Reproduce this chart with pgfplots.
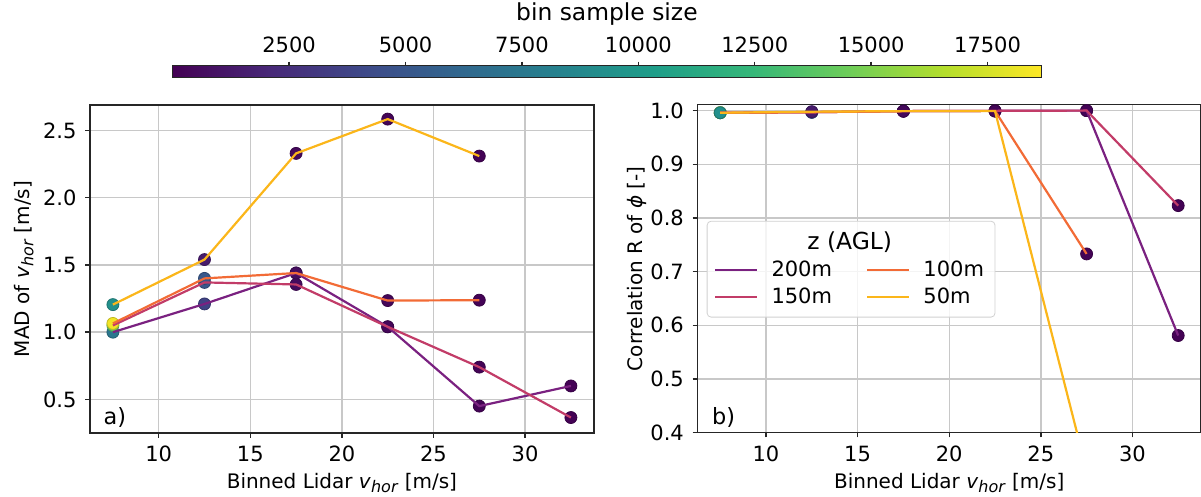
\documentclass[border=0pt]{standalone}
\usepackage{pgfplots}
\usepackage{pgfplotstable}
\pgfplotsset{compat=1.18}
\usepackage{fontspec}
\setmainfont{DejaVu Sans}

\definecolor{c200}{HTML}{7A2180}
\definecolor{c150}{HTML}{C23C68}
\definecolor{c100}{HTML}{F26B36}
\definecolor{c50}{HTML}{FBB61A}
\definecolor{gridc}{HTML}{C8C8C8}

\newcommand\tickfont{\fontsize{10.5}{12}\selectfont}
\newcommand\labfont{\fontsize{11.5}{13.5}\selectfont}
\newcommand\vhor{\textit{v}\raisebox{-2pt}{\fontsize{8}{9}\selectfont\textit{hor}}}

% x = bin centre, mad = MAD of v_hor, r = correlation of phi, n = bin sample size
\pgfplotstableread{
x mad r n
7.5 1.00 0.996 7400
12.5 1.21 0.997 3700
17.5 1.44 0.999 450
22.5 1.04 0.9995 250
27.5 0.45 1.000 120
32.5 0.60 0.581 40
}\zTwoHundred
\pgfplotstableread{
x mad r n
7.5 1.05 0.996 14000
12.5 1.37 0.997 5000
17.5 1.355 0.999 550
22.5 1.04 0.9995 280
27.5 0.74 1.000 130
32.5 0.365 0.823 40
}\zOneFifty
\pgfplotstableread{
x mad r n
7.5 1.065 0.996 18300
12.5 1.40 0.997 5100
17.5 1.44 0.999 650
22.5 1.235 0.9995 300
27.5 1.238 0.733 110
}\zOneHundred
\pgfplotstableread{
x mad r n
7.5 1.205 0.996 9300
12.5 1.54 0.998 1400
17.5 2.33 0.999 420
22.5 2.585 0.999 220
27.5 2.31 0.33 60
}\zFifty

\pgfplotsset{
  colormap={vir}{rgb255=(68,1,84) rgb255=(72,40,120) rgb255=(62,74,137)
    rgb255=(49,104,142) rgb255=(38,130,142) rgb255=(31,158,137)
    rgb255=(53,183,121) rgb255=(109,205,89) rgb255=(180,222,44)
    rgb255=(253,231,37)},
  panel/.style={
    scale only axis, width=251.9pt, height=164pt,
    xmin=6.25, xmax=33.75, xtick={10,15,20,25,30},
    grid=major, major grid style={gridc, line width=0.7pt},
    axis line style={black!85, line width=0.7pt},
    tick pos=left, tick align=outside, major tick length=2.4pt,
    tick style={black!85, line width=0.7pt},
    tick label style={font=\tickfont},
    /pgf/number format/assume math mode=true,
    xticklabel style={yshift=-0.6pt},
    yticklabel style={xshift=-0.8pt, /pgf/number format/.cd, fixed, fixed zerofill, precision=1},
    label style={font=\labfont},
    every axis x label/.style={at={(axis description cs:0.5,-0.170)}, anchor=base},
    colormap name=vir, point meta min=0, point meta max=18650,
    clip marker paths=true,
  },
  dots/.style={scatter, only marks, mark=*, mark size=3pt, scatter src=explicit, forget plot},
  ln/.style={line width=1.1pt, forget plot},
}

\begin{document}
\begin{tikzpicture}
\useasboundingbox (0,0) rectangle (600.5pt,248.5pt);

% a) MAD
\begin{axis}[panel, at={(45pt,32pt)}, anchor=south west,
  ymin=0.25, ymax=2.69, ytick={0.5,1.0,1.5,2.0,2.5},
  xlabel={Binned Lidar \vhor{} [m/s]},
  ylabel={MAD of \vhor{} [m/s]},
  every axis y label/.style={at={(axis description cs:-0.131,0.5)}, rotate=90, anchor=center},
  colorbar horizontal,
  colorbar shift/.style={xshift=41.35pt, yshift=177.65pt},
  colorbar style={
    at={(parent axis.south west)}, anchor=south west,
    scale only axis, width=434.2pt, height=6pt,
    xtick={2500,5000,7500,10000,12500,15000,17500},
    scaled x ticks=false,
    xtick pos=right, xticklabel pos=right,
    tick align=outside, major tick length=2pt,
    tick style={black!85, line width=0.7pt},
    axis line style={black!85, line width=0.6pt},
    xticklabel style={font=\tickfont, yshift=1pt, /pgf/number format/1000 sep={}},
    /pgf/number format/assume math mode=true,
    title={bin sample size},
    title style={at={(axis description cs:0.5,1)}, anchor=base, yshift=16.7pt,
      font=\fontsize{11.7}{13.5}\selectfont, inner sep=0pt},
  },
]
\addplot[dots] table[x=x, y=mad, meta=n] {\zTwoHundred};
\addplot[dots] table[x=x, y=mad, meta=n] {\zOneFifty};
\addplot[dots] table[x=x, y=mad, meta=n] {\zOneHundred};
\addplot[dots] table[x=x, y=mad, meta=n] {\zFifty};
\addplot[ln, c200] table[x=x, y=mad] {\zTwoHundred};
\addplot[ln, c150] table[x=x, y=mad] {\zOneFifty};
\addplot[ln, c100] table[x=x, y=mad] {\zOneHundred};
\addplot[ln, c50] table[x=x, y=mad] {\zFifty};
\node[anchor=base west, inner sep=0pt, font=\fontsize{11.2}{13}\selectfont]
  at (rel axis cs:0.0264,0.0244) {a)};
\end{axis}

% b) correlation
\begin{axis}[panel, at={(348.65pt,32.15pt)}, anchor=south west,
  ymin=0.4, ymax=1.011, ytick={0.4,0.5,0.6,0.7,0.8,0.9,1.0},
  xlabel={Binned Lidar \vhor{} [m/s]},
  ylabel={Correlation R of \textit{ϕ} [-]},
  every axis y label/.style={at={(axis description cs:-0.1207,0.5)}, rotate=90, anchor=center},
  legend columns=2, legend cell align=left,
  legend image code/.code={\draw[#1, line width=1.1pt] (0pt,0pt) -- (20.8pt,0pt);},
  legend style={at={(rel axis cs:0.0187,0.646)}, anchor=north west,
    draw=black!18, rounded corners=2pt, fill=white, fill opacity=0.8, text opacity=1,
    font=\tickfont, inner xsep=3.5pt, inner ysep=3.5pt,
    /tikz/every odd column/.append style={column sep=4.8pt},
    /tikz/every even column/.append style={column sep=15pt}},
]
\addplot[dots] table[x=x, y=r, meta=n] {\zTwoHundred};
\addplot[dots] table[x=x, y=r, meta=n] {\zOneFifty};
\addplot[dots] table[x=x, y=r, meta=n] {\zOneHundred};
\addplot[dots] table[x=x, y=r, meta=n] {\zFifty};
\addplot[ln, c200] table[x=x, y=r] {\zTwoHundred};
\addplot[ln, c150] table[x=x, y=r] {\zOneFifty};
\addplot[ln, c100] table[x=x, y=r] {\zOneHundred};
\addplot[ln, c50] table[x=x, y=r] {\zFifty};
\node[anchor=base west, inner sep=0pt, font=\fontsize{11.2}{13}\selectfont]
  at (rel axis cs:0.0286,0.0244) {b)};

\addlegendimage{empty legend}
\addlegendentry{\makebox[0pt][l]{\hspace*{17.9pt}\fontsize{11.7}{13.5}\selectfont z (AGL)}}
\addlegendimage{empty legend}
\addlegendentry{}
\addlegendimage{c200}
\addlegendentry{200m}
\addlegendimage{c100}
\addlegendentry{100m}
\addlegendimage{c150}
\addlegendentry{150m}
\addlegendimage{c50}
\addlegendentry{50m}
\end{axis}
\end{tikzpicture}
\end{document}
